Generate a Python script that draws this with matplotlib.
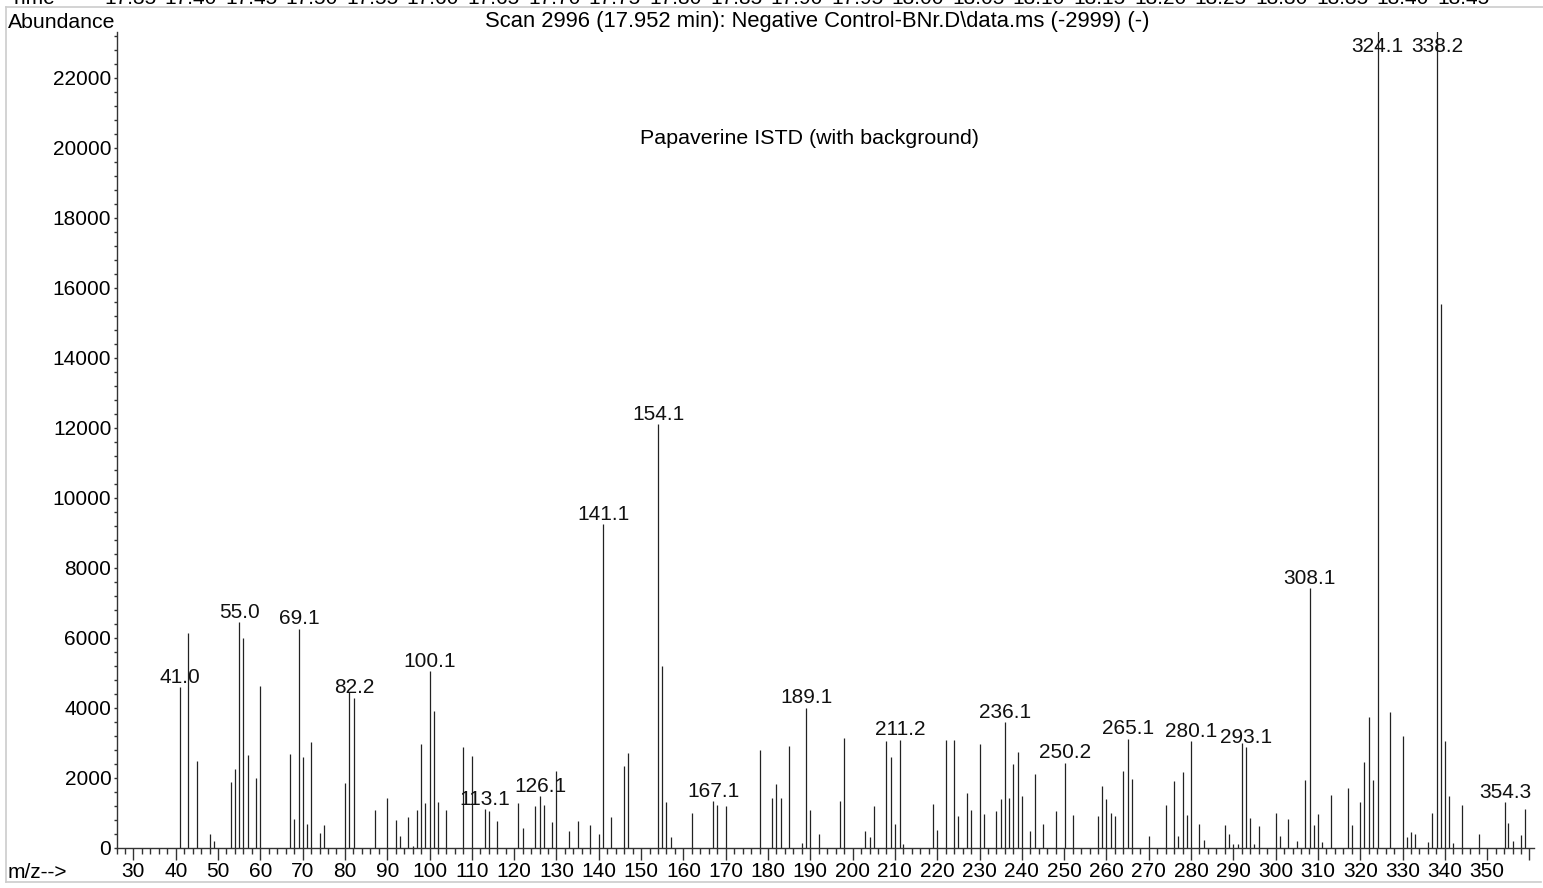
import matplotlib
matplotlib.use("Agg")
import matplotlib.pyplot as plt
from matplotlib.ticker import MultipleLocator, FixedLocator
from matplotlib.lines import Line2D

plt.rcParams['font.family'] = ['Liberation Sans', 'DejaVu Sans']
FS = 15

# spectrum peaks: m/z and abundance
mz = [41.0, 43, 45, 48, 49, 53, 54, 55.0, 56, 57, 59, 60, 67, 68, 69.1, 70, 71, 72, 74, 75,
      80, 81, 82.2, 87, 90, 92, 93, 95, 96, 97, 98, 99, 100.1, 101, 102, 104, 108, 110,
      113.1, 114, 116, 121, 122, 125, 126.1, 127, 129, 130, 133, 135, 138, 140, 141.1, 143,
      146, 147, 154.1, 155, 156, 157, 162, 167.1, 168, 170, 178, 181, 182, 183, 185, 188,
      189.1, 190, 192, 197, 198, 203, 204, 205, 208, 209, 210, 211.2, 212, 219, 220, 222,
      224, 225, 227, 228, 230, 231, 234, 235, 236.1, 237, 238, 239, 240, 242, 243, 245,
      248, 250.2, 252, 258, 259, 260, 261, 262, 264, 265.1, 266, 270, 274, 276, 277, 278,
      279, 280.1, 282, 283, 288, 289, 290, 291, 292, 293.1, 294, 295, 296, 300, 301, 303,
      305, 307, 308.1, 309, 310, 311, 313, 317, 318, 320, 321, 322, 323, 324.1, 327, 330,
      331, 332, 333, 336, 337, 338.2, 339, 340, 341, 342, 344, 348, 354.3, 355, 356, 358,
      359]
abundance = [4590, 6133, 2467, 400, 181, 1867, 2248, 6438, 6000, 2638, 1990, 4619, 2676, 829,
             6257, 2590, 667, 3019, 419, 638, 1848, 4448, 4286, 1067, 1429, 781, 343, 876, 38,
             1067, 2952, 1286, 5038, 3895, 1305, 1067, 2876, 2610, 1095, 1038, 762, 1286, 562,
             1200, 1476, 1229, 724, 2181, 486, 771, 629, 381, 9250, 886, 2343, 2714, 12110,
             5200, 1305, 314, 1000, 1324, 1210, 1181, 2781, 1419, 1819, 1419, 2895, 133, 4000,
             1086, 400, 1333, 3143, 476, 305, 1190, 3048, 2590, 667, 3086, 114, 1257, 514,
             3086, 3086, 905, 1562, 1076, 2952, 962, 1057, 1390, 3590, 1410, 2381, 2724, 1467,
             467, 2114, 686, 1038, 2429, 924, 914, 1752, 1400, 1000, 895, 2181, 3114, 1962,
             324, 1210, 1895, 324, 2171, 924, 3048, 686, 210, 638, 381, 95, 95, 3000, 2876,
             857, 95, 610, 1000, 333, 819, 200, 1933, 7420, 638, 971, 143, 1505, 1695, 638,
             1295, 2457, 3733, 1924, 26000, 3867, 3200, 286, 457, 381, 162, 981, 25000, 15540,
             3038, 1467, 124, 1210, 400, 1305, 714, 190, 371, 1095]
labelled = [41.0, 55.0, 69.1, 82.2, 100.1, 113.1, 126.1, 141.1, 154.1, 167.1, 189.1, 211.2,
            236.1, 250.2, 265.1, 280.1, 293.1, 308.1, 324.1, 338.2, 354.3]

times = [17.35 + 0.05 * i for i in range(23)]
y_ticks = list(range(0, 22001, 2000))
x_ticks = list(range(30, 361, 10))
x_labels = [str(t) if t <= 350 else '' for t in x_ticks]

W, H = 1543, 888
fig = plt.figure(figsize=(W / 100, H / 100), dpi=100)
L, R, B, T = 116.5, 1533.7, 847.5, 32.5
ax = fig.add_axes([L / W, (H - B) / H, (R - L) / W, (B - T) / H])

YMAX = 23300
ax.vlines(mz, 0, abundance, colors='#222222', lw=0.9)
ax.set_xlim(26, 361)
ax.set_ylim(0, YMAX)

for m, v in zip(mz, abundance):
    if m not in labelled:
        continue
    if v > YMAX:
        ax.annotate(f"{m:.1f}", (m, YMAX), xytext=(0, -14), textcoords='offset points',
                    ha='center', va='baseline', fontsize=FS, color='#111111')
    else:
        ax.annotate(f"{m:.1f}", (m, v), xytext=(0, 3), textcoords='offset points',
                    ha='center', va='baseline', fontsize=FS, color='#111111')

for s in ['top', 'right']:
    ax.spines[s].set_visible(False)
for s in ['left', 'bottom']:
    ax.spines[s].set_color('#333333')
    ax.spines[s].set_linewidth(1.0)

ax.xaxis.set_major_locator(FixedLocator(x_ticks))
ax.set_xticklabels(x_labels)
ax.xaxis.set_minor_locator(MultipleLocator(2))
ax.yaxis.set_major_locator(FixedLocator(y_ticks))
ax.yaxis.set_minor_locator(MultipleLocator(400))
ax.tick_params(axis='x', which='major', length=8.5, width=1, color='#333333',
               labelsize=FS, pad=2)
ax.tick_params(axis='x', which='minor', length=4.3, width=1, color='#333333')
ax.tick_params(axis='y', which='both', length=2.2, width=1, color='#333333',
               labelsize=FS, pad=1.5)

# header and captions
fig.text(8 / W, 1 - 22 / H, "Abundance", fontsize=15.3, ha='left', va='center')
fig.text(817 / W, 1 - 22 / H,
         "Scan 2996 (17.952 min): Negative Control-BNr.D\\data.ms (-2999) (-)",
         fontsize=15.8, ha='center', va='center')
fig.text(810 / W, 1 - 139 / H, "Papaverine ISTD (with background)",
         fontsize=15.4, ha='center', va='center')
fig.text(8 / W, 1 - 872 / H, "m/z-->", fontsize=FS, ha='left', va='center')
fig.text(10 / W, 1 - 4 / H, "Time", fontsize=FS, ha='left', va='baseline')
for i, t in enumerate(times):
    fig.text((130 + 60.6 * i) / W, 1 - 4 / H, f"{t:.2f}", fontsize=FS,
             ha='center', va='baseline')

# light frame around the spectrum panel
frame = dict(color='#cccccc', lw=1.2, transform=fig.transFigure)
fig.add_artist(Line2D([6 / W, 1], [1 - 7 / H, 1 - 7 / H], **frame))
fig.add_artist(Line2D([6 / W, 6 / W], [1 - 7 / H, 1 - 882 / H], **frame))
fig.add_artist(Line2D([6 / W, 1541 / W], [1 - 882 / H, 1 - 882 / H], **frame))

fig.savefig("out.png", dpi=100)
